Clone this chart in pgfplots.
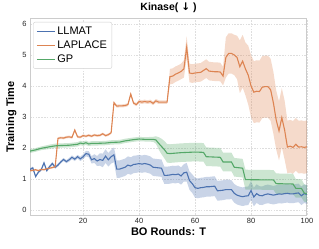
\documentclass[border=0pt]{standalone}
\usepackage{fontspec}
\setmainfont{Liberation Sans}
\newfontfamily\arrowfont{DejaVu Sans}
\usepackage{pgfplots}
\pgfplotsset{compat=1.18}
\usepackage{pgfplotstable}
\usepgfplotslibrary{fillbetween}
\definecolor{cblue}{HTML}{4C72B0}
\definecolor{corange}{HTML}{DD8452}
\definecolor{cgreen}{HTML}{55A868}

\pgfplotstableread{
x m s
1 1.31 0.04
2 1.36 0.04
3 1.08 0.04
4 1.22 0.04
5 1.30 0.04
6 1.52 0.05
7 1.27 0.05
8 1.40 0.05
9 1.50 0.05
10 1.38 0.05
11 1.45 0.05
12 1.55 0.05
13 1.63 0.05
14 1.56 0.05
15 1.62 0.06
16 1.70 0.06
17 1.64 0.06
18 1.72 0.06
19 1.65 0.07
20 1.72 0.08
21 1.82 0.09
22 1.80 0.10
23 1.62 0.12
24 1.66 0.14
25 1.58 0.16
26 1.63 0.20
27 1.60 0.22
28 1.74 0.22
29 1.62 0.22
30 1.72 0.22
31 1.78 0.24
32 1.32 0.28
33 1.32 0.28
34 1.35 0.28
35 1.38 0.28
36 1.45 0.28
37 1.42 0.28
38 1.47 0.28
39 1.48 0.28
40 1.50 0.28
41 1.48 0.28
42 1.50 0.28
43 1.48 0.28
44 1.45 0.28
45 1.38 0.28
46 1.37 0.28
47 1.36 0.28
48 1.35 0.28
49 1.12 0.28
50 1.12 0.28
51 1.13 0.28
52 1.15 0.28
53 1.14 0.28
54 1.16 0.28
55 1.10 0.28
56 1.20 0.28
57 1.22 0.30
58 0.95 0.30
59 0.85 0.30
60 0.72 0.32
61 0.70 0.32
62 0.72 0.32
63 0.73 0.32
64 0.75 0.32
65 0.75 0.32
66 0.76 0.32
67 0.77 0.32
68 0.62 0.32
69 0.63 0.32
70 0.64 0.32
71 0.66 0.32
72 0.66 0.32
73 0.66 0.30
74 0.54 0.30
75 0.48 0.30
76 0.45 0.30
77 0.43 0.30
78 0.45 0.30
79 0.46 0.30
80 0.63 0.30
81 0.42 0.30
82 0.53 0.30
83 0.47 0.30
84 0.46 0.30
85 0.50 0.30
86 0.52 0.30
87 0.50 0.30
88 0.48 0.30
89 0.50 0.30
90 0.52 0.30
91 0.51 0.30
92 0.53 0.30
93 0.54 0.30
94 0.52 0.30
95 0.52 0.30
96 0.54 0.30
97 0.55 0.30
98 0.46 0.30
99 0.53 0.30
100 0.50 0.30
}\llmat

\pgfplotstableread{
x m s
1 1.27 0.03
2 1.28 0.03
3 1.30 0.03
4 1.27 0.03
5 1.31 0.03
6 1.30 0.03
7 1.33 0.03
8 1.35 0.03
9 1.37 0.03
10 1.40 0.03
11 2.31 0.04
12 2.33 0.04
13 2.32 0.04
14 2.35 0.04
15 2.36 0.04
16 2.34 0.04
17 2.58 0.04
18 2.36 0.04
19 2.35 0.04
20 2.40 0.04
21 2.38 0.04
22 2.41 0.04
23 2.38 0.04
24 2.42 0.04
25 2.40 0.04
26 2.41 0.04
27 2.46 0.04
28 2.40 0.04
29 2.43 0.04
30 2.49 0.04
31 3.46 0.05
32 3.35 0.05
33 3.36 0.05
34 3.36 0.05
35 3.37 0.05
36 3.40 0.05
37 3.74 0.05
38 3.45 0.05
39 3.40 0.05
40 3.50 0.06
41 3.48 0.06
42 3.50 0.06
43 3.48 0.06
44 3.50 0.06
45 3.44 0.06
46 3.52 0.06
47 3.48 0.06
48 3.48 0.06
49 3.48 0.06
50 3.48 0.06
51 4.30 0.25
52 4.32 0.25
53 4.38 0.25
54 4.42 0.25
55 4.47 0.25
56 4.55 0.28
57 5.25 0.35
58 4.42 0.30
59 4.40 0.30
60 4.42 0.30
61 4.43 0.30
62 4.44 0.30
63 4.50 0.30
64 4.56 0.30
65 4.48 0.30
66 4.47 0.30
67 4.46 0.30
68 4.46 0.30
69 4.45 0.30
70 4.32 0.30
71 4.92 0.65
72 5.05 0.65
73 5.05 0.65
74 5.00 0.65
75 4.92 0.70
76 4.62 0.85
77 4.80 0.85
78 4.55 0.85
79 4.35 0.95
80 4.00 1.00
81 3.80 1.00
82 3.83 1.00
83 3.82 1.00
84 3.96 1.00
85 3.98 1.00
86 3.98 1.00
87 3.88 1.00
88 3.45 1.00
89 2.90 0.95
90 2.55 0.95
91 2.98 0.95
92 2.58 0.95
93 2.03 0.85
94 2.06 0.85
95 2.02 0.85
96 2.12 0.85
97 2.03 0.85
98 2.04 0.85
99 2.02 0.85
100 2.04 0.85
}\laplace

\pgfplotstableread{
x m s
1 1.90 0.06
3 1.94 0.06
5 1.99 0.06
8 2.04 0.07
10 2.07 0.07
12 2.08 0.07
15 2.09 0.07
18 2.12 0.07
19 2.16 0.07
20 2.14 0.07
21 2.17 0.07
22 2.13 0.07
23 2.15 0.07
25 2.15 0.07
28 2.16 0.07
30 2.18 0.07
33 2.19 0.07
35 2.23 0.07
38 2.27 0.07
40 2.29 0.07
42 2.28 0.07
45 2.28 0.08
46 2.26 0.12
47 2.15 0.20
48 2.05 0.25
49 1.95 0.28
50 1.83 0.30
51 1.82 0.30
55 1.85 0.30
60 1.87 0.30
63 1.86 0.30
64 1.72 0.30
69 1.70 0.30
70 1.55 0.30
73 1.55 0.30
74 1.38 0.30
77 1.35 0.30
78 0.98 0.32
88 0.97 0.32
89 0.85 0.33
95 0.84 0.33
96 0.70 0.30
98 0.70 0.30
99 0.55 0.28
100 0.52 0.27
}\gp

\begin{document}
\begin{tikzpicture}
\begin{axis}[
  name=ax,
  scale only axis,
  width=277pt, height=196pt,
  xmin=1, xmax=100, ymin=-0.16, ymax=6.16,
  xtick={20,40,60,80,100},
  ytick={0,1,2,3,4,5,6},
  grid=major,
  grid style={dash pattern=on 1.6pt off 1.2pt, black!13, line width=0.5pt},
  axis line style={black!20, line width=1pt},
  tick style={draw=none},
  ticklabel style={font=\fontsize{7.5}{8}\selectfont, text=black!85},
  /pgf/number format/assume math mode=true,
  title={\textbf{Kinase( {\arrowfont\bfseries ↓} )}},
  title style={font=\fontsize{10.5}{12}\selectfont, yshift=-3pt},
  xlabel={BO Rounds: T},
  ylabel={Training Time},
  label style={font=\bfseries\fontsize{11}{13}\selectfont},
  xlabel style={yshift=3pt},
  ylabel style={yshift=-1pt},
  legend style={at={(0.011,0.985)}, anchor=north west, draw=black!18, rounded corners=2pt,
    fill=white, font=\fontsize{11}{13}\selectfont, row sep=1pt, inner xsep=3pt, inner ysep=2.5pt},
  legend cell align=left,
  legend image code/.code={\draw[#1, line width=1.1pt] (0pt,0pt) -- (18pt,0pt);},
]
\addplot[name path=bU, draw=none, forget plot] table[x=x, y expr=\thisrow{m}+\thisrow{s}] {\llmat};
\addplot[name path=bL, draw=none, forget plot] table[x=x, y expr=\thisrow{m}-\thisrow{s}] {\llmat};
\addplot[cblue, fill opacity=0.3, draw=none, forget plot] fill between[of=bU and bL];
\addplot[name path=oU, draw=none, forget plot] table[x=x, y expr=\thisrow{m}+\thisrow{s}] {\laplace};
\addplot[name path=oL, draw=none, forget plot] table[x=x, y expr=\thisrow{m}-\thisrow{s}] {\laplace};
\addplot[corange, fill opacity=0.3, draw=none, forget plot] fill between[of=oU and oL];
\addplot[name path=gU, draw=none, forget plot] table[x=x, y expr=\thisrow{m}+\thisrow{s}] {\gp};
\addplot[name path=gL, draw=none, forget plot] table[x=x, y expr=\thisrow{m}-\thisrow{s}] {\gp};
\addplot[cgreen, fill opacity=0.3, draw=none, forget plot] fill between[of=gU and gL];

\addplot[cblue, line width=1.1pt] table[x=x, y=m] {\llmat};
\addlegendentry{LLMAT}
\addplot[corange, line width=1.1pt] table[x=x, y=m] {\laplace};
\addlegendentry{LAPLACE}
\addplot[cgreen, line width=1.1pt] table[x=x, y=m] {\gp};
\addlegendentry{GP}
\end{axis}
\pgfresetboundingbox
\path[use as bounding box] ([xshift=-30pt,yshift=-33pt]ax.south west) rectangle ([xshift=12pt,yshift=19pt]ax.north east);
\end{tikzpicture}
\end{document}
